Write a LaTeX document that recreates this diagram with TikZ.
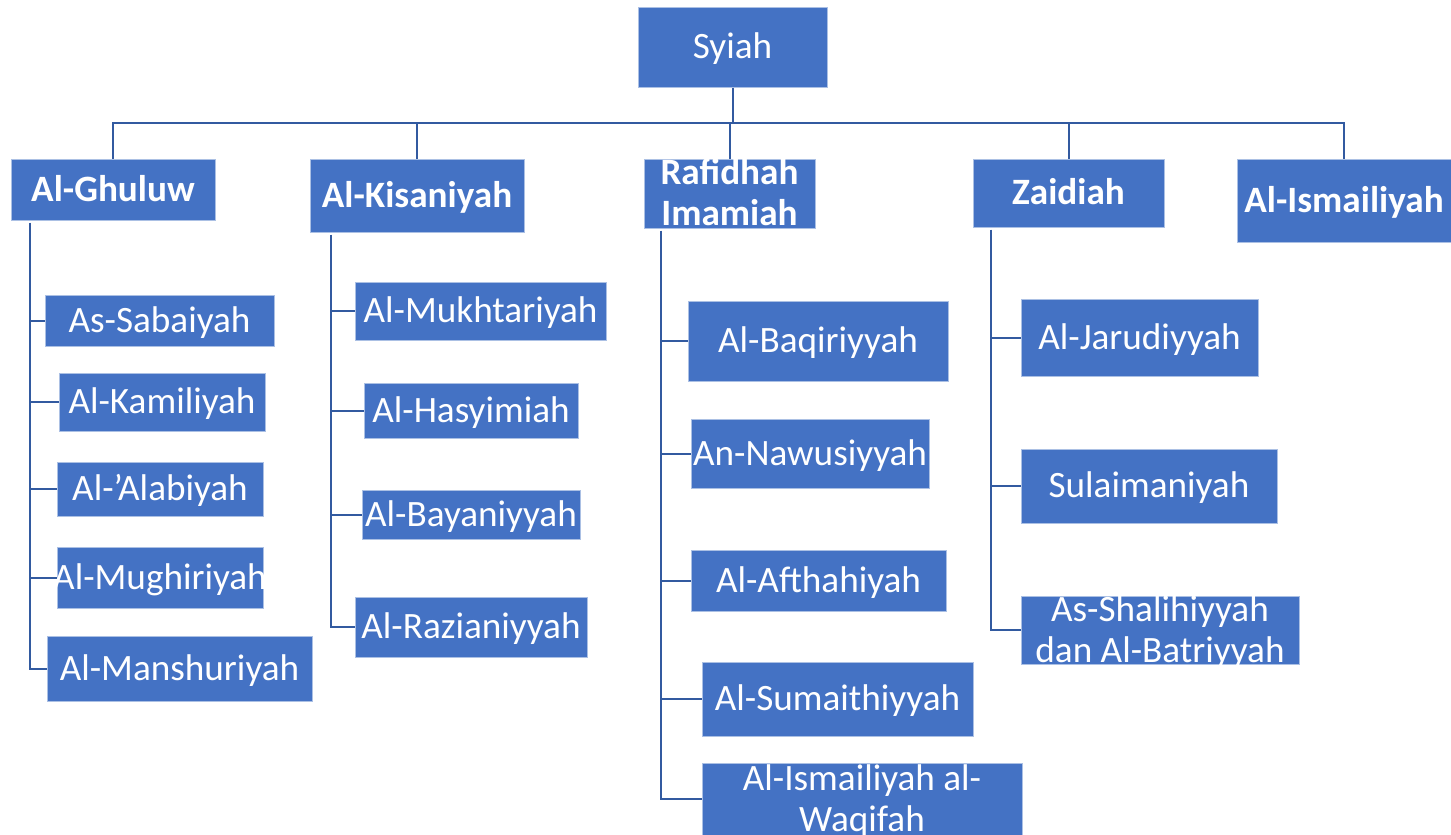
\documentclass[tikz,border=0pt]{standalone}
\usepackage{fontspec}
\setmainfont{Carlito}
\definecolor{boxblue}{HTML}{4472C4}
\definecolor{lineblue}{RGB}{50,90,160}
\tikzset{
  box/.style={fill=boxblue, draw=white!55!boxblue, line width=0.5pt, inner sep=0pt},
  txt/.style={text=white, inner sep=0pt, align=center, font=\fontsize{18.6}{20.5}\selectfont},
  btxt/.style={txt, font=\fontsize{18.6}{20.5}\selectfont\bfseries},
  conn/.style={draw=lineblue, line width=1pt},
}
\newcommand\tA{\rule{0pt}{0.94em}}
\newcommand\tZ{\rule[-0.3em]{0pt}{0.3em}}
% name, text style, cx, cy, w, h (px), text
\newcommand\mkbox[7]{%
  \node[box, minimum width=#5*0.5pt, minimum height=#6*0.5pt] (#1) at (#3,#4) {};
  \node[#2] (#1-t) at (#1.center) {\tA#7\tZ};
}
\begin{document}
\begin{tikzpicture}[x=0.5pt, y=-0.5pt]
\useasboundingbox (0,0) rectangle (1451,835);
\clip (0,0) rectangle (1451,835);

% top levels
\mkbox{syiah}{txt}{732.5}{47}{189}{80}{Syiah}
\mkbox{ghuluw}{btxt}{113}{189.5}{204}{61}{Al-Ghuluw}
\mkbox{kis}{btxt}{417}{195.5}{214}{73}{Al-Kisaniyah}
\mkbox{raf}{btxt}{729.5}{193.5}{171}{69}{Rafidhah\\Imamiah}
\mkbox{zaid}{btxt}{1068.5}{193}{191}{68}{Zaidiah}
\mkbox{ismail}{btxt}{1344}{200.5}{214}{83}{Al-Ismailiyah}

% Al-Ghuluw children
\mkbox{g1}{txt}{159.5}{320.5}{229}{51}{As-Sabaiyah}
\mkbox{g2}{txt}{162}{402}{206}{58}{Al-Kamiliyah}
\mkbox{g3}{txt}{160}{489}{206}{54}{Al-’Alabiyah}
\mkbox{g4}{txt}{160}{577.5}{206}{61}{Al-Mughiriyah}
\mkbox{g5}{txt}{179.5}{668.5}{265}{65}{Al-Manshuriyah}

% Al-Kisaniyah children
\mkbox{k1}{txt}{480.5}{311}{251}{58}{Al-Mukhtariyah}
\mkbox{k2}{txt}{471}{410.5}{214}{55}{Al-Hasyimiah}
\mkbox{k3}{txt}{471}{514.5}{218}{49}{Al-Bayaniyyah}
\mkbox{k4}{txt}{471}{627}{232}{60}{Al-Razianiyyah}

% Rafidhah Imamiah children
\mkbox{r1}{txt}{818}{341}{260}{80}{Al-Baqiriyyah}
\mkbox{r2}{txt}{810}{453.5}{238}{69}{An-Nawusiyyah}
\mkbox{r3}{txt}{818.5}{580.5}{255}{61}{Al-Afthahiyah}
\mkbox{r4}{txt}{837.5}{699}{271}{74}{Al-Sumaithiyyah}
\mkbox{r5}{txt}{862}{799}{320}{72}{Al-Ismailiyah al-\\Waqifah}

% Zaidiah children
\mkbox{z1}{txt}{1139.5}{337.5}{237}{77}{Al-Jarudiyyah}
\mkbox{z2}{txt}{1149}{486}{256}{74}{Sulaimaniyah}
\mkbox{z3}{txt}{1160}{630}{278}{68}{As-Shalihiyyah\\dan Al-Batriyyah}

% top connectors
\coordinate (bus) at (732.5,123);
\draw[conn] (syiah.south) -- (bus);
\draw[conn] (ghuluw.north) -- (ghuluw.north |- bus) -- (ismail.north |- bus) -- (ismail.north);
\foreach \n in {kis,raf,zaid} \draw[conn] (\n.north) -- (\n.north |- bus);

% child connectors
\coordinate (gv) at ([xshift=9.5pt,yshift=-1pt]ghuluw.south west);
\draw[conn] (gv) |- (g5.west);
\foreach \c in {g1,g2,g3,g4} \draw[conn] (gv |- \c.west) -- (\c.west);

\coordinate (kv) at ([xshift=10.5pt,yshift=-1pt]kis.south west);
\draw[conn] (kv) |- (k4.west);
\foreach \c in {k1,k2,k3} \draw[conn] (kv |- \c.west) -- (\c.west);

\coordinate (rv) at ([xshift=8.5pt,yshift=-1pt]raf.south west);
\draw[conn] (rv) |- (r5.west);
\foreach \c in {r1,r2,r3,r4} \draw[conn] (rv |- \c.west) -- (\c.west);

\coordinate (zv) at ([xshift=9pt,yshift=-1pt]zaid.south west);
\draw[conn] (zv) |- (z3.west);
\foreach \c in {z1,z2} \draw[conn] (zv |- \c.west) -- (\c.west);
\end{tikzpicture}
\end{document}
